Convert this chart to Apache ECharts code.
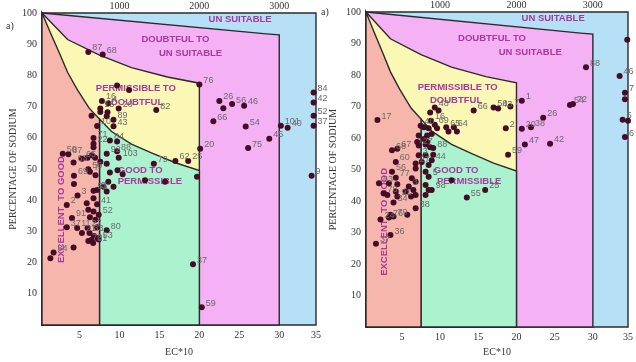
<!DOCTYPE html>
<html>
<head>
<meta charset="utf-8">
<script src="https://cdn.jsdelivr.net/npm/echarts@6/dist/echarts.min.js"></script>
<style>
  html, body { margin: 0; padding: 0; background: #fff; }
  #chart { width: 636px; height: 362px; }
</style>
</head>
<body>
<div id="chart"></div>
<script>
// axis range (EC*10) and ticks
const XMIN = 0.3
const XMAX = 34.6
const bottomTicks = [5, 10, 15, 20, 25, 30, XMAX]
const topTicks = [10, 20, 30]

// Wilcox diagram boundaries, [EC*10, %Na]
const topLine = [[XMIN, 100], [28.4, 93.3], [30, 93]]
const curveDoubtful = [[XMIN, 100], [3.5, 91.5], [7.5, 86.5], [11.5, 82.5], [16, 79.5], [20, 77.5]]
const curveExcellent = [[XMIN, 100], [1.3, 94], [2.5, 87], [3.5, 81], [4.7, 75.5], [6.2, 69.5], [7.5, 66]]
const curveGood = [[7.5, 66], [9, 62], [11.5, 58], [14, 55.2], [17, 52], [20, 49.5]]

const regionColors = ['#b6e0f6', '#f4b1f4', '#fbf8b5', '#abf3cf', '#f7b6ab']
const regionShapes = [
  [[XMIN, 0], [XMAX, 0], [XMAX, 100], [XMIN, 100]],
  [...topLine, [30, 0], [XMIN, 0]],
  [...curveDoubtful, [20, 0], [XMIN, 0]],
  [[7.5, 0], ...curveGood, [20, 0]],
  [...curveExcellent, [7.5, 0], [XMIN, 0]]
]

// region names [x, y, text, rotation]
const regionLabelsLeft = [
  [25.1, 97.8, 'UN SUITABLE', 0], [17.0, 91.4, 'DOUBTFUL TO', 0], [18.9, 86.9, 'UN SUITABLE', 0],
  [12.05, 75.8, 'PERMISSIBLE TO', 0], [12.2, 71.3, 'DOUBTFUL', 0],
  [12.6, 49.6, 'GOOD TO', 0], [13.8, 45.9, 'PERMISSIBLE', 0],
  [2.7, 28.9, 'EXCELLENT', 90], [2.7, 47.0, 'TO GOOD', 90]
]
const regionLabelsRight = [
  [24.8, 98.0, 'UN SUITABLE', 0], [16.8, 91.7, 'DOUBTFUL TO', 0], [21.8, 87.2, 'UN SUITABLE', 0],
  [12.3, 76.2, 'PERMISSIBLE TO', 0], [12.1, 71.8, 'DOUBTFUL', 0],
  [12.1, 49.8, 'GOOD TO', 0], [13.8, 46.3, 'PERMISSIBLE', 0],
  [2.7, 25.2, 'EXCELLENT', 90], [2.7, 43.4, 'TO GOOD', 90]
]

// samples [EC*10, %Na, sample no.]
const leftPoints = [
  [6.1, 87.5, '87'], [7.9, 86.7, '68'], [20.0, 77.1, '76'], [9.7, 76.8, ''], [11.2, 75.3, ''],
  [7.8, 71.8, '16'], [8.6, 71.1, '4'], [7.6, 69.4, '15'], [9.9, 69.4, '20'], [7.6, 68.3, ''], [8.5, 68.2, ''], [14.6, 68.9, '82'],
  [9.25, 65.8, '89'], [8.4, 66.9, ''], [6.5, 67.1, ''], [7.2, 63.8, '10'], [9.25, 63.7, '43'],
  [6.75, 59.9, '71'], [8.8, 59.1, '84'], [9.7, 58.8, ''], [6.75, 58.1, '22'], [6.75, 57.0, ''], [9.7, 55.7, '88'],
  [2.9, 54.9, '50'], [3.6, 54.7, '87'], [8.4, 54.9, '92'], [9.9, 53.6, '103'], [4.25, 52.1, '63'], [5.3, 53.3, '65'],
  [6.0, 53.6, ''], [6.55, 54.4, ''], [6.95, 53.6, ''], [7.6, 52.3, ''], [8.4, 51.7, ''],
  [14.3, 51.7, '79'], [17.0, 52.6, '62'], [18.6, 52.6, '25'], [20.1, 56.5, '20'],
  [6.1, 49.9, '56'], [4.3, 47.8, '69'], [6.3, 49.1, '7'], [7.0, 48.0, ''], [8.8, 48.9, ''], [9.75, 49.6, ''], [10.4, 48.3, ''],
  [8.6, 45.9, ''], [9.25, 44.3, ''], [8.0, 44.3, ''], [8.4, 42.8, ''], [13.2, 46.4, ''], [15.7, 45.9, ''], [19.7, 47.5, ''], [4.3, 45.2, ''],
  [6.75, 43.0, '51'], [7.2, 43.3, '5'], [4.75, 41.5, '3'], [3.4, 38.5, '2'], [5.9, 39.0, ''], [6.75, 40.6, ''], [7.2, 38.7, '41'],
  [6.1, 36.9, ''], [6.75, 36.4, ''], [7.4, 35.3, '52'],
  [4.05, 34.3, '91'], [6.3, 34.5, ''], [7.0, 33.7, ''], [3.4, 31.3, '37'], [4.7, 31.1, '11'], [6.0, 31.1, '27'], [8.4, 30.4, '80'], [7.2, 31.3, ''],
  [5.3, 29.5, '21'], [6.25, 29.5, '33'], [6.8, 28.5, ''], [7.2, 27.9, ''], [6.55, 27.4, ''], [7.4, 27.4, '53'], [6.1, 26.9, '70'], [6.7, 26.3, '31'],
  [4.25, 24.8, ''], [1.75, 23.2, '34'], [1.35, 21.4, ''],
  [19.2, 19.5, '37'], [20.3, 5.7, '59'], [34.05, 47.8, '9'],
  [22.5, 71.8, '26'], [23.0, 69.5, ''], [24.1, 70.8, '56'], [25.6, 70.3, '46'], [21.75, 65.3, '66'], [25.8, 63.6, '54'],
  [26.1, 56.7, '75'], [28.75, 59.7, '45'], [30.2, 63.9, '101'], [31.05, 63.2, '40'],
  [34.3, 74.5, '84'], [34.3, 71.3, '42'], [34.3, 67.1, '52'], [34.3, 63.9, '37']
]
const rightPoints = [
  [29.1, 82.5, '88'], [1.8, 65.7, '17'], [9.3, 69.7, '48'], [9.8, 68.7, ''], [8.7, 68.1, ''], [14.4, 68.7, '66'],
  [17.0, 69.7, '50'], [17.6, 69.4, '43'], [19.2, 70.0, '7'], [20.7, 71.8, '1'],
  [8.8, 65.5, '16'], [9.3, 64.2, '69'], [7.45, 63.9, '40'], [7.9, 63.4, ''], [8.5, 63.1, ''], [9.6, 63.1, ''],
  [10.8, 63.4, '65'], [11.8, 63.4, '64'], [11.1, 62.1, ''], [12.2, 62.1, ''],
  [18.6, 63.1, '2'], [20.7, 62.9, '20'], [21.9, 63.4, '38'], [23.5, 66.4, '26'], [27.0, 70.5, '54'], [27.4, 70.8, '72'],
  [21.1, 57.9, '47'], [24.4, 58.2, '42'], [18.9, 54.7, '59'],
  [8.9, 61.3, ''], [8.3, 60.8, ''], [7.2, 60.8, ''], [7.9, 59.7, ''], [7.0, 58.7, ''], [8.3, 58.7, ''], [7.2, 57.6, '27'], [8.1, 57.9, ''], [8.7, 57.1, ''],
  [3.7, 56.1, '68'], [4.4, 56.6, '67'], [9.1, 56.8, '88'], [7.2, 54.5, '3'], [8.1, 54.5, ''], [9.1, 54.7, ''],
  [4.2, 52.4, '60'], [6.8, 51.9, '27'], [7.6, 52.4, ''], [8.5, 51.4, ''], [8.9, 52.9, '44'], [3.7, 49.3, '56'], [6.8, 50.3, ''], [8.1, 49.3, ''], [8.5, 47.7, '5'],
  [2.0, 45.6, '63'], [4.2, 47.4, '77'], [3.3, 45.6, ''], [4.4, 45.3, ''], [5.9, 44.6, '3'], [6.3, 47.2, ''], [6.8, 46.1, ''], [6.5, 43.5, ''],
  [2.6, 42.5, '78'], [4.2, 43.0, ''], [5.5, 43.0, ''], [4.4, 41.4, '91'], [6.2, 41.4, ''], [6.8, 41.9, ''],
  [3.9, 39.5, '34'], [3.1, 41.9, ''], [3.9, 35.1, '79'], [3.5, 35.6, ''], [6.8, 37.7, '38'], [3.3, 34.8, '76'], [5.7, 35.6, ''],
  [2.2, 34.1, '24'], [3.5, 29.2, '36'], [1.6, 26.4, '37'],
  [8.1, 45.1, ''], [8.5, 43.5, ''], [8.9, 43.5, '98'], [8.1, 41.9, ''], [13.5, 41.1, '55'], [15.9, 43.5, '25'], [11.5, 46.6, ''],
  [33.5, 79.7, '46'], [34.5, 91.2, ''], [34.2, 74.4, '7'], [34.2, 72.3, ''], [33.9, 65.8, '5'], [34.6, 65.5, ''], [34.2, 60.3, '6']
]

const SERIF = '"Liberation Serif", "DejaVu Serif", serif'
const SANS = '"Liberation Sans", Arial, sans-serif'
const AXIS_COLOR = '#333'
const NAME_COLOR = '#a8389f'

const chart = echarts.init(document.getElementById('chart'))

const makeAxes = (g, yGap, xGap) => {
  const xBottom = {
    type: 'value', gridIndex: g, position: 'bottom', min: XMIN, max: XMAX,
    name: 'EC*10', nameLocation: 'middle', nameGap: xGap,
    nameTextStyle: {fontFamily: SERIF, fontSize: 10, color: AXIS_COLOR},
    axisLine: {show: false}, axisTick: {show: false}, splitLine: {show: false},
    axisLabel: {
      customValues: bottomTicks, formatter: v => Math.round(v / 5) * 5,
      fontFamily: SERIF, fontSize: 10, color: AXIS_COLOR, margin: 5
    }
  }
  const xTop = {
    type: 'value', gridIndex: g, position: 'top', min: XMIN, max: XMAX,
    axisLine: {show: false}, axisTick: {show: false}, splitLine: {show: false},
    axisLabel: {
      customValues: topTicks, formatter: v => v * 100,
      fontFamily: SERIF, fontSize: 10, color: AXIS_COLOR, margin: 2
    }
  }
  const y = {
    type: 'value', gridIndex: g, min: 0, max: 100, interval: 10,
    name: 'PERCENTAGE OF SODIUM', nameLocation: 'middle', nameGap: yGap, nameRotate: 90,
    nameTextStyle: {fontFamily: SERIF, fontSize: 10, color: AXIS_COLOR},
    axisLine: {show: false}, axisTick: {show: false}, splitLine: {show: false},
    axisLabel: {showMinLabel: false, fontFamily: SERIF, fontSize: 10, color: AXIS_COLOR, margin: 5}
  }
  return {x: [xBottom, xTop], y}
}

const regionSeries = (g) => ({
  type: 'custom', xAxisIndex: 2 * g, yAxisIndex: g, silent: true, z: 1,
  data: regionShapes.map((_, i) => [i, 0]),
  renderItem: (params, api) => ({
    type: 'polygon',
    shape: {points: regionShapes[params.dataIndex].map(p => api.coord(p))},
    style: {fill: regionColors[params.dataIndex], stroke: '#2b2b2b', lineWidth: 1.4}
  })
})

const labelSeries = (g, labels) => ({
  type: 'custom', xAxisIndex: 2 * g, yAxisIndex: g, silent: true, z: 2,
  data: labels.map(l => [l[0], l[1]]),
  renderItem: (params, api) => {
    const l = labels[params.dataIndex]
    const p = api.coord([l[0], l[1]])
    return {
      type: 'text', x: p[0], y: p[1], rotation: l[3] * Math.PI / 180,
      style: {
        text: l[2], fill: NAME_COLOR, font: 'bold 9.5px ' + SANS,
        align: 'center', verticalAlign: 'middle'
      }
    }
  }
})

const pointSeries = (g, pts) => ({
  type: 'scatter', xAxisIndex: 2 * g, yAxisIndex: g, z: 3,
  symbolSize: 6,
  itemStyle: {color: '#440c27', opacity: 1},
  data: pts.map(p => ({value: [p[0], p[1]], label: {show: p[2] !== '', formatter: p[2]}})),
  label: {
    position: 'right', distance: 1, offset: [0, -4],
    fontFamily: SANS, fontSize: 9, color: '#6a6a6a'
  }
})

const left = makeAxes(0, 23, 22)
const right = makeAxes(1, 28, 20)

const option = {
  animation: false,
  grid: [
    {left: 42, right: 320, top: 13, bottom: 34},
    {left: 366, right: 2, top: 12, bottom: 32}
  ],
  xAxis: [...left.x, ...right.x],
  yAxis: [left.y, right.y],
  graphic: [
    {type: 'text', left: 6, top: 21, style: {text: 'a)', font: '10px ' + SERIF, fill: AXIS_COLOR}},
    {type: 'text', left: 321, top: 7, style: {text: 'a)', font: '10px ' + SERIF, fill: AXIS_COLOR}}
  ],
  series: [
    regionSeries(0), labelSeries(0, regionLabelsLeft), pointSeries(0, leftPoints),
    regionSeries(1), labelSeries(1, regionLabelsRight), pointSeries(1, rightPoints)
  ]
}

chart.setOption(option)
</script>
</body>
</html>
